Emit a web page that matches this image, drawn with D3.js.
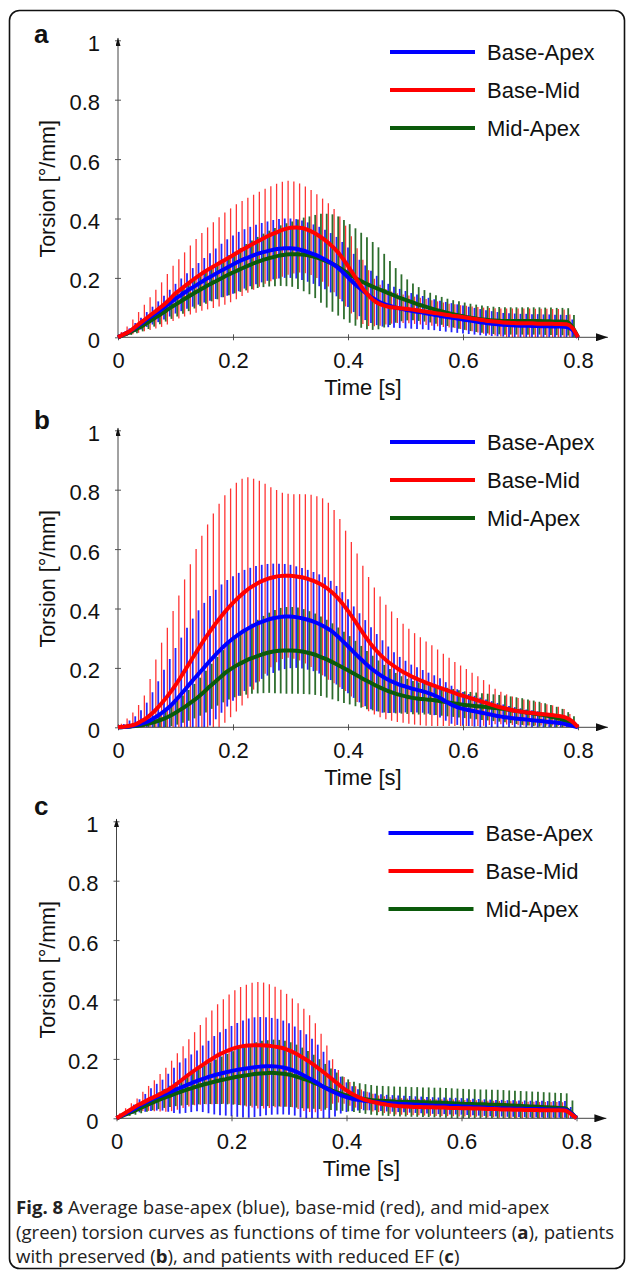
<!DOCTYPE html>
<html>
<head>
<meta charset="utf-8">
<script src="https://cdn.jsdelivr.net/npm/d3@7.9.0/dist/d3.min.js"></script>
<style>
  body { margin: 0; background: #fff; }
  svg { display: block; }
</style>
</head>
<body>
<svg id="chart" width="627" height="1272"></svg>
<script>
// Sample times (s), one error bar per sample
const times = d3.range(81).map(i => +(i * 0.01).toFixed(2));

const seriesNames = ['Base-Apex', 'Base-Mid', 'Mid-Apex'];
const panelLetters = ['a', 'b', 'c'];
const xTicks = [0, 0.2, 0.4, 0.6, 0.8];
const yTicks = [0, 0.2, 0.4, 0.6, 0.8, 1];

// ---- panel a (volunteers) ----
const aBaseApexMean = [
  0, .010, .020, .033, .046, .060, .073, .086, .100, .115,
  .130, .143, .156, .168, .180, .192, .203, .214, .225, .235,
  .245, .255, .264, .272, .279, .285, .290, .295, .298, .300,
  .300, .298, .293, .287, .280, .272, .262, .251, .238, .221,
  .202, .183, .166, .150, .136, .124, .114, .107, .101, .097,
  .093, .089, .086, .083, .079, .076, .072, .069, .066, .063,
  .060, .057, .054, .051, .048, .046, .044, .042, .041, .040,
  .039, .039, .038, .038, .037, .037, .036, .036, .035, .025, 0];
const aBaseApexSd = [
  0, .005, .010, .015, .020, .025, .030, .035, .040, .045,
  .050, .055, .060, .065, .070, .075, .080, .085, .090, .095,
  .098, .100, .100, .100, .100, .100, .100, .100, .100, .100,
  .100, .100, .100, .100, .100, .100, .100, .100, .100, .100,
  .100, .098, .095, .092, .088, .083, .078, .073, .069, .066,
  .063, .060, .058, .056, .054, .052, .051, .050, .049, .048,
  .047, .046, .045, .044, .043, .042, .041, .040, .040, .040,
  .040, .040, .040, .040, .040, .040, .040, .040, .040, .035, 0];
const aBaseMidMean = [
  0, .010, .020, .035, .050, .065, .080, .095, .110, .128,
  .148, .163, .178, .193, .207, .220, .232, .243, .254, .265,
  .276, .288, .299, .310, .320, .330, .340, .349, .357, .364,
  .369, .370, .368, .362, .353, .341, .327, .311, .292, .268,
  .240, .210, .180, .153, .132, .117, .108, .103, .100, .098,
  .096, .094, .091, .088, .085, .082, .079, .076, .073, .071,
  .068, .065, .062, .059, .056, .054, .052, .050, .049, .048,
  .047, .047, .047, .046, .046, .046, .045, .045, .044, .032, 0];
const aBaseMidSd = [
  0, .008, .016, .025, .035, .045, .055, .065, .075, .085,
  .093, .100, .108, .116, .124, .131, .138, .144, .150, .155,
  .158, .160, .160, .160, .160, .160, .160, .160, .160, .160,
  .158, .155, .150, .146, .143, .141, .140, .140, .140, .139,
  .136, .130, .120, .108, .094, .080, .069, .060, .054, .050,
  .048, .047, .046, .045, .044, .043, .042, .041, .040, .040,
  .040, .041, .042, .043, .044, .045, .046, .047, .048, .049,
  .050, .050, .050, .050, .050, .050, .050, .050, .050, .045, 0];
const aMidApexMean = [
  0, .008, .016, .026, .036, .048, .060, .072, .085, .098,
  .110, .122, .134, .146, .157, .168, .179, .189, .199, .209,
  .218, .227, .236, .244, .252, .259, .265, .270, .275, .278,
  .280, .280, .279, .276, .272, .266, .258, .250, .240, .228,
  .215, .203, .192, .182, .173, .165, .157, .149, .141, .133,
  .126, .119, .112, .106, .100, .094, .089, .084, .079, .075,
  .071, .067, .064, .061, .059, .057, .056, .055, .055, .055,
  .055, .055, .055, .055, .054, .054, .053, .053, .052, .035, 0];
const aMidApexSd = [
  0, .004, .008, .012, .016, .020, .024, .028, .032, .036,
  .040, .043, .046, .049, .052, .055, .058, .061, .064, .067,
  .070, .074, .078, .082, .086, .090, .094, .098, .102, .106,
  .110, .117, .124, .131, .140, .150, .158, .164, .167, .167,
  .166, .164, .160, .155, .148, .138, .124, .108, .092, .079,
  .069, .062, .057, .053, .050, .048, .047, .046, .046, .046,
  .046, .046, .046, .046, .046, .046, .046, .046, .046, .046,
  .046, .046, .046, .046, .046, .046, .046, .046, .046, .040, 0];

// ---- panel b (preserved EF) ----
const bBaseApexMean = [
  0, .001, .003, .007, .012, .018, .028, .040, .054, .070,
  .090, .112, .135, .158, .180, .202, .224, .245, .265, .283,
  .299, .313, .326, .337, .347, .355, .362, .367, .371, .373,
  .373, .371, .367, .362, .356, .348, .338, .326, .310, .292,
  .273, .253, .234, .216, .199, .184, .171, .160, .151, .143,
  .137, .131, .126, .121, .115, .108, .099, .087, .076, .068,
  .062, .058, .054, .050, .046, .042, .038, .035, .032, .030,
  .028, .026, .024, .022, .020, .018, .016, .014, .010, .005, 0];
const bBaseApexSd = [
  0, .010, .020, .030, .045, .065, .090, .115, .140, .160,
  .177, .190, .200, .208, .214, .217, .218, .218, .216, .213,
  .210, .207, .204, .200, .196, .192, .188, .184, .180, .177,
  .174, .171, .169, .168, .167, .167, .167, .167, .166, .163,
  .158, .154, .150, .145, .138, .130, .122, .112, .102, .094,
  .087, .080, .076, .072, .069, .067, .066, .065, .064, .060,
  .057, .054, .052, .050, .048, .046, .044, .042, .040, .038,
  .036, .034, .033, .032, .030, .029, .028, .026, .024, .015, 0];
const bBaseMidMean = [
  0, .002, .005, .010, .020, .032, .048, .068, .090, .115,
  .142, .172, .203, .234, .265, .295, .323, .350, .375, .398,
  .419, .438, .455, .470, .482, .492, .500, .505, .509, .510,
  .510, .508, .505, .500, .493, .484, .473, .458, .440, .418,
  .392, .364, .335, .306, .280, .257, .237, .220, .206, .193,
  .182, .172, .163, .155, .147, .140, .133, .126, .119, .112,
  .106, .100, .094, .088, .082, .076, .070, .065, .060, .056,
  .053, .050, .048, .046, .044, .042, .040, .037, .032, .020, 0];
const bBaseMidSd = [
  0, .010, .025, .040, .055, .075, .115, .160, .195, .220,
  .250, .272, .295, .315, .335, .350, .360, .370, .378, .383,
  .385, .385, .382, .372, .355, .338, .320, .303, .290, .280,
  .276, .277, .280, .285, .290, .294, .298, .298, .292, .283,
  .270, .260, .250, .238, .226, .214, .203, .193, .184, .175,
  .167, .160, .154, .148, .142, .136, .129, .122, .115, .108,
  .102, .096, .090, .084, .077, .068, .060, .055, .051, .048,
  .046, .044, .042, .040, .038, .036, .034, .032, .030, .025, 0];
const bMidApexMean = [
  0, .001, .002, .004, .007, .011, .016, .022, .029, .038,
  .049, .061, .074, .088, .103, .120, .138, .155, .172, .188,
  .201, .212, .222, .231, .238, .245, .251, .255, .258, .259,
  .259, .258, .255, .251, .246, .239, .231, .222, .212, .202,
  .192, .181, .170, .159, .149, .139, .130, .122, .115, .109,
  .104, .100, .097, .095, .093, .091, .088, .085, .082, .079,
  .076, .074, .072, .070, .068, .066, .064, .062, .059, .056,
  .053, .050, .047, .044, .041, .037, .033, .028, .021, .012, 0];
const bMidApexSd = [
  0, .002, .004, .007, .010, .014, .018, .023, .028, .034,
  .040, .046, .052, .058, .064, .070, .076, .082, .088, .094,
  .100, .106, .112, .118, .124, .130, .135, .140, .144, .146,
  .146, .145, .143, .140, .137, .134, .131, .128, .124, .120,
  .115, .110, .104, .098, .092, .086, .080, .074, .068, .063,
  .059, .056, .054, .052, .051, .050, .049, .048, .047, .046,
  .045, .045, .045, .045, .045, .045, .045, .045, .045, .045,
  .045, .044, .043, .042, .040, .038, .036, .034, .030, .025, 0];

// ---- panel c (reduced EF) ----
const cBaseApexMean = [
  0, .010, .020, .031, .042, .052, .063, .071, .078, .086,
  .094, .102, .110, .118, .126, .133, .139, .145, .150, .155,
  .159, .163, .166, .169, .172, .174, .175, .175, .174, .171,
  .166, .159, .150, .140, .130, .118, .106, .095, .086, .078,
  .071, .066, .062, .059, .057, .055, .053, .051, .050, .049,
  .048, .047, .046, .045, .044, .043, .042, .042, .041, .041,
  .040, .039, .038, .037, .036, .035, .034, .034, .033, .033,
  .032, .032, .031, .031, .031, .030, .030, .030, .030, .018, 0];
const cBaseApexSd = [
  0, .005, .010, .015, .022, .030, .038, .045, .052, .064,
  .076, .086, .092, .097, .102, .112, .122, .132, .140, .146,
  .152, .158, .163, .167, .168, .167, .165, .163, .161, .158,
  .154, .150, .147, .143, .138, .130, .118, .100, .080, .062,
  .050, .042, .036, .032, .030, .028, .028, .028, .028, .028,
  .028, .028, .028, .028, .028, .028, .028, .028, .028, .028,
  .028, .028, .028, .028, .028, .028, .028, .028, .028, .028,
  .028, .028, .028, .028, .028, .028, .028, .028, .028, .020, 0];
const cBaseMidMean = [
  0, .012, .024, .036, .047, .057, .067, .076, .086, .096,
  .109, .124, .139, .153, .167, .180, .193, .205, .216, .225,
  .233, .239, .243, .245, .246, .246, .245, .243, .240, .236,
  .229, .220, .209, .197, .184, .170, .155, .140, .124, .108,
  .094, .082, .072, .064, .058, .053, .049, .046, .043, .041,
  .040, .039, .038, .038, .037, .037, .036, .036, .035, .035,
  .034, .034, .033, .033, .032, .031, .031, .030, .030, .029,
  .029, .028, .028, .028, .027, .027, .027, .027, .026, .015, 0];
const cBaseMidSd = [
  0, .005, .010, .015, .020, .032, .042, .052, .063, .074,
  .085, .095, .104, .113, .123, .134, .146, .158, .168, .176,
  .184, .192, .199, .205, .210, .213, .212, .208, .203, .197,
  .190, .183, .178, .172, .163, .150, .130, .105, .075, .055,
  .045, .040, .036, .033, .031, .030, .028, .028, .028, .028,
  .028, .028, .028, .028, .028, .028, .028, .028, .028, .028,
  .028, .028, .028, .028, .028, .028, .028, .028, .028, .028,
  .028, .028, .028, .028, .028, .028, .028, .028, .028, .020, 0];
const cMidApexMean = [
  0, .008, .016, .024, .033, .042, .051, .059, .067, .074,
  .081, .088, .095, .101, .107, .113, .118, .123, .128, .132,
  .136, .140, .143, .146, .149, .151, .152, .153, .152, .150,
  .147, .142, .136, .130, .123, .115, .106, .098, .090, .083,
  .077, .072, .068, .065, .062, .060, .059, .058, .057, .056,
  .056, .055, .055, .054, .054, .053, .053, .052, .051, .050,
  .049, .048, .048, .047, .047, .046, .046, .045, .044, .043,
  .042, .041, .040, .039, .038, .037, .036, .035, .034, .020, 0];
const cMidApexSd = [
  0, .004, .008, .012, .016, .020, .024, .028, .032, .036,
  .040, .045, .050, .055, .060, .065, .070, .075, .080, .085,
  .090, .095, .100, .104, .107, .110, .111, .112, .112, .111,
  .109, .106, .102, .097, .091, .084, .077, .070, .064, .058,
  .054, .051, .050, .050, .050, .050, .050, .050, .050, .050,
  .050, .050, .050, .050, .050, .050, .050, .050, .050, .050,
  .050, .050, .050, .050, .050, .050, .050, .050, .050, .050,
  .050, .050, .050, .050, .050, .050, .050, .050, .050, .040, 0];

// series order: Base-Apex (blue), Base-Mid (red), Mid-Apex (green)
const panels = [
  { letter: 'a', means: [aBaseApexMean, aBaseMidMean, aMidApexMean], sds: [aBaseApexSd, aBaseMidSd, aMidApexSd] },
  { letter: 'b', means: [bBaseApexMean, bBaseMidMean, bMidApexMean], sds: [bBaseApexSd, bBaseMidSd, bMidApexSd] },
  { letter: 'c', means: [cBaseApexMean, cBaseMidMean, cMidApexMean], sds: [cBaseApexSd, cBaseMidSd, cMidApexSd] }
];

// caption, split in its three printed lines; true = bold piece
const captionLines = [
  [['Fig. 8', true], [' Average base-apex (blue), base-mid (red), and mid-apex', false]],
  [['(green) torsion curves as functions of time for volunteers (', false], ['a', true], ['), patients', false]],
  [['with preserved (', false], ['b', true], ['), and patients with reduced EF (', false], ['c', true], [')', false]]
];

// look
const lineColors = ['#0000ff', '#ff0000', '#0b5a0b'];
const barColors = ['#2424ff', '#ff3434', '#2e6e2e'];
const barWidths = [1.8, 1.3, 1.8];
const barOffsets = [0, -2.4, 1.7];   // px, so the three bar sets sit side by side
const drawOrder = [1, 0, 2];          // bars: red, blue, green
const lineOrder = [2, 0, 1];          // mean lines: green, blue, red on top
const panelTop = [0, 390, 781];
const panelShift = [0, 0, -1.5];
const letterBaseline = [43, 39, 34];
const font = '"Liberation Sans", Arial, sans-serif';

const svg = d3.select('#chart');
const defs = svg.append('defs');

defs.append('marker')
  .attr('id', 'arrow-x')
  .attr('viewBox', '0 0 12 8')
  .attr('refX', 12).attr('refY', 4)
  .attr('markerWidth', 12).attr('markerHeight', 8)
  .attr('markerUnits', 'userSpaceOnUse')
  .attr('orient', 'auto')
  .append('path').attr('d', 'M0,0L12,4L0,8z').attr('fill', '#111');

defs.append('marker')
  .attr('id', 'arrow-y')
  .attr('viewBox', '0 0 8 5')
  .attr('refX', 8).attr('refY', 2.5)
  .attr('markerWidth', 8).attr('markerHeight', 5)
  .attr('markerUnits', 'userSpaceOnUse')
  .attr('orient', 'auto')
  .append('path').attr('d', 'M0,0L8,2.5L0,5z').attr('fill', '#111');

// outer frame
svg.append('rect')
  .attr('x', 9.5).attr('y', 10.5)
  .attr('width', 615).attr('height', 1258)
  .attr('rx', 10).attr('ry', 10)
  .attr('fill', 'none').attr('stroke', '#111').attr('stroke-width', 1.6);

panels.forEach((panel, p) => {
  const top = panelTop[p];
  const dx = panelShift[p];

  const x = d3.scaleLinear().domain([0, 0.8]).range([118 + dx, 578 + dx]);
  const y = d3.scaleLinear().domain([0, 1]).range([top + 337.3, top + 40.3]);

  const g = svg.append('g');

  // error bars (mean +/- sd, cut at zero)
  drawOrder.forEach(k => {
    const mean = panel.means[k];
    const sd = panel.sds[k];
    const idx = d3.range(1, times.length - 1);
    g.append('g')
      .selectAll('line')
      .data(idx)
      .join('line')
      .attr('x1', i => x(times[i]) + barOffsets[k])
      .attr('x2', i => x(times[i]) + barOffsets[k])
      .attr('y1', i => y(Math.max(0, mean[i] - sd[i])))
      .attr('y2', i => y(mean[i] + sd[i]))
      .attr('stroke', barColors[k])
      .attr('stroke-width', barWidths[k]);
  });

  // axes
  const gx = g.append('g')
    .attr('transform', `translate(0,${y(0)})`)
    .call(d3.axisBottom(x).tickValues(xTicks).tickFormat(d3.format('')).tickSize(3).tickPadding(12));
  gx.select('.domain').remove();
  gx.selectAll('.tick line').attr('y1', -3).attr('stroke', '#555');
  gx.attr('font-family', font).attr('font-size', 22);
  gx.selectAll('.tick text').attr('fill', '#111');

  const gy = g.append('g')
    .attr('transform', `translate(${x(0)},0)`)
    .call(d3.axisLeft(y).tickValues(yTicks).tickFormat(d3.format('')).tickSize(3).tickPadding(15));
  gy.select('.domain').remove();
  gy.selectAll('.tick line').attr('x1', 3).attr('stroke', '#555');
  gy.attr('font-family', font).attr('font-size', 22);
  gy.selectAll('.tick text').attr('fill', '#111').attr('dy', '0.45em');

  g.append('line')
    .attr('x1', x(0)).attr('x2', x(0.852))
    .attr('y1', y(0)).attr('y2', y(0))
    .attr('stroke', '#444').attr('stroke-width', 1)
    .attr('marker-end', 'url(#arrow-x)');
  g.append('line')
    .attr('x1', x(0)).attr('x2', x(0))
    .attr('y1', y(0)).attr('y2', y(1.008))
    .attr('stroke', '#444').attr('stroke-width', 1)
    .attr('marker-end', 'url(#arrow-y)');

  // mean curves
  const line = d3.line().curve(d3.curveMonotoneX);
  lineOrder.forEach(k => {
    g.append('path')
      .attr('d', line(times.map((t, i) => [x(t), y(panel.means[k][i])])))
      .attr('fill', 'none')
      .attr('stroke', lineColors[k])
      .attr('stroke-width', 4)
      .attr('stroke-linejoin', 'round');
  });

  // axis titles
  g.append('text')
    .attr('x', x(0.426))
    .attr('y', y(0) + 58)
    .attr('text-anchor', 'middle')
    .attr('font-family', font).attr('font-size', 22).attr('fill', '#111')
    .text('Time [s]');
  g.append('text')
    .attr('transform', `translate(55,${(y(0) + y(1)) / 2}) rotate(-90)`)
    .attr('text-anchor', 'middle')
    .attr('font-family', font).attr('font-size', 21.5).attr('fill', '#111')
    .text('Torsion [°/mm]');

  // panel letter
  g.append('text')
    .attr('x', 34).attr('y', top + letterBaseline[p])
    .attr('font-family', font).attr('font-size', 26).attr('font-weight', 'bold')
    .attr('fill', '#111')
    .text(panel.letter);

  // legend
  const leg = g.append('g').attr('transform', `translate(${390 + dx},${top + 52})`);
  seriesNames.forEach((name, k) => {
    leg.append('line')
      .attr('x1', 0).attr('x2', 85)
      .attr('y1', k * 38).attr('y2', k * 38)
      .attr('stroke', lineColors[k]).attr('stroke-width', 4);
    leg.append('text')
      .attr('x', 97).attr('y', k * 38).attr('dy', '0.36em')
      .attr('font-family', font).attr('font-size', 22).attr('fill', '#111')
      .text(name);
  });
});

// caption
const cap = svg.append('text')
  .attr('font-family', '"Open Sans", "Noto Sans", sans-serif')
  .attr('font-size', 18.6)
  .attr('fill', '#222');
captionLines.forEach((parts, li) => {
  parts.forEach((part, j) => {
    const ts = cap.append('tspan').text(part[0]);
    if (j === 0) ts.attr('x', 16).attr('y', 1214 + li * 24.5);
    if (part[1]) ts.attr('font-weight', 'bold');
  });
});
</script>
</body>
</html>
